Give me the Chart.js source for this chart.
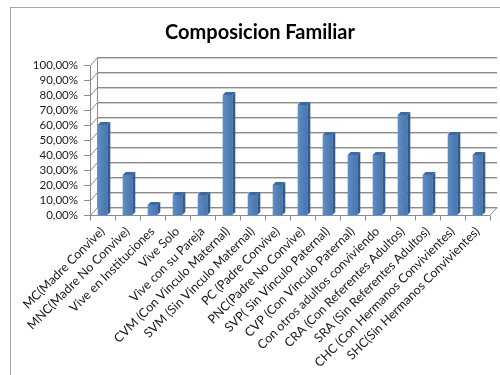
<!DOCTYPE html>
<html>
<head>
<meta charset="utf-8">
<script src="https://cdn.jsdelivr.net/npm/chart.js@4.4.1/dist/chart.umd.min.js"></script>
<style>
  html, body { margin: 0; padding: 0; background: #ffffff; }
  #wrap { width: 500px; height: 375px; position: relative; }
</style>
</head>
<body>
<div id="wrap"><canvas id="chart" width="500" height="375"></canvas></div>
<script>
// Categories of household composition
const categories = [
  "MC(Madre Convive)",
  "MNC(Madre No Convive)",
  "Vive en Instituciones",
  "Vive Solo",
  "Vive con su Pareja",
  "CVM (Con Vinculo Maternal)",
  "SVM (Sin Vinculo Maternal)",
  "PC (Padre Convive)",
  "PNC(Padre No Convive)",
  "SVP( Sin Vinculo Paternal)",
  "CVP (Con Vinculo Paternal)",
  "Con otros adultos conviviendo",
  "CRA (Con Referentes Adultos)",
  "SRA (Sin Referentes Adultos)",
  "CHC (Con Hermanos Convivientes)",
  "SHC(Sin Hermanos Convivientes)"
];

// Percentage for each category
const percentages = [60.00, 26.67, 6.67, 13.33, 13.33, 80.00, 13.33, 20.00,
                     73.33, 53.33, 40.00, 40.00, 66.67, 26.67, 53.33, 40.00];

// Value axis
const yTicks = [0, 10, 20, 30, 40, 50, 60, 70, 80, 90, 100];

const chartTitle = "Composicion Familiar";

// depth of the back wall and of each column
const WALL_DX = 7, WALL_DY = 8;
const BAR_D = 3;

const framePlugin = {
  id: 'frame',
  beforeDraw(chart) {
    const ctx = chart.ctx;
    ctx.save();
    ctx.fillStyle = '#ffffff';
    ctx.fillRect(0, 0, chart.width, chart.height);
    ctx.strokeStyle = '#a6a6a6';
    ctx.lineWidth = 1;
    ctx.strokeRect(10.5, 7.5, 700, 700);
    ctx.restore();
  }
};

const wallPlugin = {
  id: 'wall',
  beforeDatasetsDraw(chart) {
    const ctx = chart.ctx;
    const ys = chart.scales.y;
    const L = chart.chartArea.left, R = chart.chartArea.right;
    const base = ys.getPixelForValue(0);
    const top = ys.getPixelForValue(100);
    ctx.save();
    ctx.lineWidth = 1;
    // back wall gridlines and the left wall diagonals
    yTicks.forEach(v => {
      const py = Math.round(ys.getPixelForValue(v)) + 0.5;
      ctx.strokeStyle = '#d0d0d0';
      ctx.beginPath();
      ctx.moveTo(L + WALL_DX, py - WALL_DY + 1);
      ctx.lineTo(R + WALL_DX, py - WALL_DY + 1);
      ctx.stroke();
      ctx.strokeStyle = '#8c8c8c';
      ctx.beginPath();
      ctx.moveTo(L + 0.5, py);
      ctx.lineTo(L + WALL_DX + 0.5, py - WALL_DY);
      ctx.lineTo(R + WALL_DX, py - WALL_DY);
      ctx.stroke();
      // tick mark on the value axis
      ctx.beginPath();
      ctx.moveTo(L - 6, py);
      ctx.lineTo(L, py);
      ctx.stroke();
    });
    ctx.strokeStyle = '#8c8c8c';
    // back vertical edge of the left wall
    ctx.beginPath();
    ctx.moveTo(L + WALL_DX + 0.5, Math.round(base) + 0.5 - WALL_DY);
    ctx.lineTo(L + WALL_DX + 0.5, Math.round(top) + 0.5 - WALL_DY);
    ctx.stroke();
    // front value axis
    ctx.beginPath();
    ctx.moveTo(L + 0.5, Math.round(base) + 0.5);
    ctx.lineTo(L + 0.5, Math.round(top) + 0.5);
    ctx.stroke();
    // floor front edge and right corner
    const by = Math.round(base) + 0.5;
    ctx.beginPath();
    ctx.moveTo(L, by);
    ctx.lineTo(R, by);
    ctx.lineTo(R + WALL_DX, by - WALL_DY);
    ctx.stroke();
    // category tick marks
    const n = categories.length;
    const step = (R - L) / n;
    for (let i = 0; i <= n; i++) {
      const px = Math.round(L + i * step) + 0.5;
      ctx.beginPath();
      ctx.moveTo(px, by);
      ctx.lineTo(px, by + 5);
      ctx.stroke();
    }
    ctx.restore();
  },
  afterDatasetsDraw(chart) {
    const ctx = chart.ctx;
    const meta = chart.getDatasetMeta(0);
    ctx.save();
    meta.data.forEach(bar => {
      const w = bar.width;
      const l = bar.x - w / 2, r = bar.x + w / 2;
      const t = bar.y, b = bar.base;
      // soft highlight on the front face
      const g = ctx.createLinearGradient(l, 0, r, 0);
      g.addColorStop(0, 'rgba(255,255,255,0.10)');
      g.addColorStop(1, 'rgba(0,0,0,0.08)');
      ctx.fillStyle = g;
      ctx.fillRect(l, t, w, b - t);
      // side face
      ctx.fillStyle = '#2f5b91';
      ctx.beginPath();
      ctx.moveTo(r, t);
      ctx.lineTo(r + BAR_D, t - BAR_D);
      ctx.lineTo(r + BAR_D, b - BAR_D);
      ctx.lineTo(r, b);
      ctx.closePath();
      ctx.fill();
      // top face
      ctx.fillStyle = '#3a6aa6';
      ctx.beginPath();
      ctx.moveTo(l, t);
      ctx.lineTo(l + BAR_D, t - BAR_D);
      ctx.lineTo(r + BAR_D, t - BAR_D);
      ctx.lineTo(r, t);
      ctx.closePath();
      ctx.fill();
    });
    ctx.restore();
  }
};

new Chart(document.getElementById('chart'), {
  type: 'bar',
  data: {
    labels: categories,
    datasets: [{
      data: percentages,
      backgroundColor: '#4f81bd',
      borderWidth: 0,
      barPercentage: 0.8,
      categoryPercentage: 0.48
    }]
  },
  options: {
    responsive: false,
    animation: false,
    devicePixelRatio: 1,
    layout: { padding: { left: 30, right: 10, top: 0, bottom: 0 } },
    plugins: {
      legend: { display: false },
      tooltip: { enabled: false },
      title: {
        display: true,
        text: chartTitle,
        color: '#000000',
        font: { family: 'Lato', size: 20, weight: 'bold', lineHeight: 1.2 },
        padding: { top: 21, bottom: 20 }
      }
    },
    scales: {
      x: {
        grid: { display: false, drawTicks: false },
        border: { display: false },
        ticks: {
          autoSkip: false,
          minRotation: 45,
          maxRotation: 45,
          padding: 9,
          color: '#1a1a1a',
          font: { family: 'Lato', size: 12.5 }
        },
        afterFit(scale) { scale.height = 160; }
      },
      y: {
        min: 0,
        max: 100,
        grid: { display: false, drawTicks: false },
        border: { display: false },
        ticks: {
          autoSkip: false,
          stepSize: 10,
          padding: 12,
          color: '#1a1a1a',
          font: { family: 'Lato', size: 11.5 },
          callback: v => v.toFixed(2).replace('.', ',') + '%'
        },
        afterFit(scale) { scale.width = 60; }
      }
    }
  },
  plugins: [framePlugin, wallPlugin]
});
</script>
</body>
</html>
